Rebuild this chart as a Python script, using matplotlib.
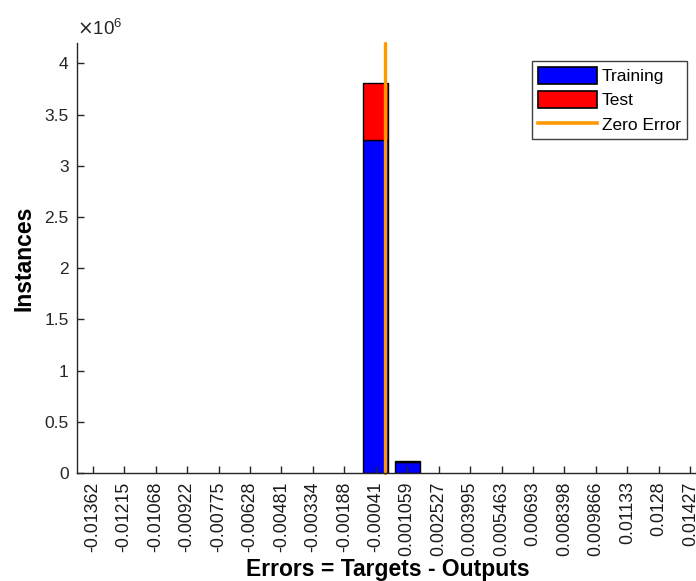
import matplotlib
matplotlib.use("Agg")
import matplotlib.pyplot as plt
from matplotlib.patches import Patch
from matplotlib.lines import Line2D
from matplotlib.ticker import FuncFormatter

plt.rcParams['font.family'] = ['Liberation Sans', 'DejaVu Sans']

# bin centres (as printed on the x axis)
bin_labels = ['-0.01362', '-0.01215', '-0.01068', '-0.00922', '-0.00775',
              '-0.00628', '-0.00481', '-0.00334', '-0.00188', '-0.00041',
              '0.001059', '0.002527', '0.003995', '0.005463', '0.00693',
              '0.008398', '0.009866', '0.01133', '0.0128', '0.01427']
bin_centers = [float(s) for s in bin_labels]

# instances per bin
training = [0, 0, 0, 0, 0, 0, 0, 0, 0, 3.25e6, 0.110e6, 0, 0, 0, 0, 0, 0, 0, 0, 0]
test = [0, 0, 0, 0, 0, 0, 0, 0, 0, 0.56e6, 0.005e6, 0, 0, 0, 0, 0, 0, 0, 0, 0]

ymax = 4.2e6
bin_w = bin_centers[1] - bin_centers[0]

fig = plt.figure(figsize=(6.96, 5.81), dpi=100)
ax = fig.add_axes([77 / 696, 108 / 581, 629 / 696, 430 / 581])

# empty bins get no outline so they don't show as dashes on the axis
tr_lw = [1.0 if v > 0 else 0 for v in training]
te_lw = [1.0 if v > 0 else 0 for v in test]
ax.bar(bin_centers, training, width=0.8 * bin_w, color='#0000ff',
       edgecolor='black', linewidth=tr_lw)
ax.bar(bin_centers, test, width=0.8 * bin_w, bottom=training, color='#ff0000',
       edgecolor='black', linewidth=te_lw)
ax.plot([0, 0], [0, ymax], color='#ff9900', linewidth=2.4, clip_on=False,
        solid_capstyle='round')

ax.set_xlim(bin_centers[0] - bin_w / 2, bin_centers[-1] + bin_w / 2)
ax.set_ylim(0, ymax)
ax.set_xticks(bin_centers)
ax.set_xticklabels(bin_labels, rotation=90)
ax.set_yticks([0, 0.5e6, 1e6, 1.5e6, 2e6, 2.5e6, 3e6, 3.5e6, 4e6])
ax.yaxis.set_major_formatter(FuncFormatter(lambda v, p: f'{v / 1e6:g}'))

for s in ['top', 'right']:
    ax.spines[s].set_visible(False)
for s in ['left', 'bottom']:
    ax.spines[s].set_color('#262626')
    ax.spines[s].set_linewidth(1.0)
ax.tick_params(direction='in', length=5, width=1, colors='#262626',
               labelsize=12.5, pad=6)
ax.tick_params(axis='x', labelcolor='#1a1a1a', labelsize=12.8)

ax.text(0.0, 1.01, r'$\times\mathregular{10^{6}}$', transform=ax.transAxes,
        fontsize=13.5, color='#262626', ha='left', va='bottom')

ax.set_ylabel('Instances', fontsize=16.5, fontweight='bold')
ax.yaxis.set_label_coords(-0.066, 0.5)
ax.set_xlabel('Errors = Targets - Outputs', fontsize=16.5, fontweight='bold',
              va='baseline')
ax.xaxis.set_label_coords(0.494, -0.24)

handles = [Patch(facecolor='#0000ff', edgecolor='black', linewidth=1.2),
           Patch(facecolor='#ff0000', edgecolor='black', linewidth=1.2),
           Line2D([0], [0], color='#ff9900', linewidth=2.6)]
leg = ax.legend(handles, ['Training', 'Test', 'Zero Error'], loc='upper right',
                bbox_to_anchor=(687 / 696, 1 - 61 / 581),
                bbox_transform=fig.transFigure, fontsize=12.5, fancybox=False,
                framealpha=1, edgecolor='#404040', handlelength=3.4,
                handleheight=1.1, handletextpad=0.3, labelspacing=0.4,
                borderpad=0.35, borderaxespad=0)
leg.get_frame().set_linewidth(1.0)

fig.savefig('out.png', dpi=100)
